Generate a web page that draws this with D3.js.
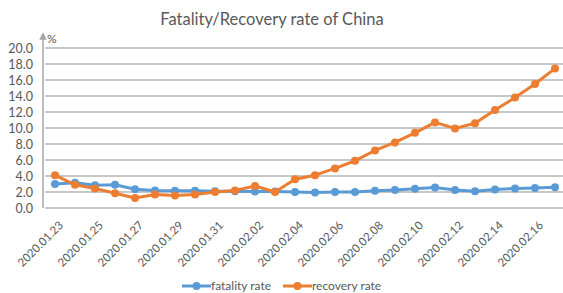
<!DOCTYPE html>
<html>
<head>
<meta charset="utf-8">
<script src="https://cdn.jsdelivr.net/npm/d3@7"></script>
<style>
  body { margin: 0; background: #fff; }
  text { font-family: Lato, "Open Sans", sans-serif; fill: #595959; }
</style>
</head>
<body>
<div class="chart"></div>
<script>
var dates = ["2020.01.23", "2020.01.24", "2020.01.25", "2020.01.26", "2020.01.27", "2020.01.28",
  "2020.01.29", "2020.01.30", "2020.01.31", "2020.02.01", "2020.02.02", "2020.02.03",
  "2020.02.04", "2020.02.05", "2020.02.06", "2020.02.07", "2020.02.08", "2020.02.09",
  "2020.02.10", "2020.02.11", "2020.02.12", "2020.02.13", "2020.02.14", "2020.02.15",
  "2020.02.16", "2020.02.17"];

var fatality = [3.0, 3.15, 2.85, 2.9, 2.35, 2.2, 2.15, 2.15, 2.1, 2.1, 2.05, 2.05,
  2.0, 1.95, 2.0, 2.0, 2.15, 2.25, 2.4, 2.55, 2.25, 2.1, 2.3, 2.45, 2.5, 2.6];

var recovery = [4.1, 2.9, 2.45, 1.85, 1.25, 1.7, 1.55, 1.7, 2.0, 2.2, 2.75, 2.0,
  3.6, 4.1, 4.95, 5.9, 7.2, 8.2, 9.4, 10.7, 9.95, 10.6, 12.25, 13.8, 15.5, 17.45];

var yTicks = [0, 2, 4, 6, 8, 10, 12, 14, 16, 18, 20];

var seriesNames = ["fatality rate", "recovery rate"];
var colors = ["#5B9BD5", "#ED7D31"];

var W = 563, H = 293;
var margin = { top: 48, right: -2, bottom: 85, left: 45 },
    width = W - margin.left - margin.right,
    height = H - margin.top - margin.bottom;

var svg = d3.select(".chart").append("svg")
    .attr("width", W)
    .attr("height", H);

svg.append("text")
    .attr("x", 272)
    .attr("y", 25)
    .attr("text-anchor", "middle")
    .style("font-size", "16.5px")
    .text("Fatality/Recovery rate of China");

var g = svg.append("g")
    .attr("transform", "translate(" + margin.left + "," + margin.top + ")");

var x = d3.scaleBand().domain(dates).range([0, 520]);
var y = d3.scaleLinear().domain([0, 20]).range([height, 0]);

// gridlines
g.append("g")
  .selectAll("line")
  .data(yTicks)
  .enter().append("line")
    .attr("x1", 0)
    .attr("x2", width)
    .attr("y1", function(d) { return y(d); })
    .attr("y2", function(d) { return y(d); })
    .attr("stroke", "#b4b4b4")
    .attr("stroke-width", 1.5);

// y axis labels
var yAxis = d3.axisLeft(y).tickValues(yTicks).tickFormat(d3.format(".1f")).tickSize(0).tickPadding(12);
var ya = g.append("g").call(yAxis);
ya.select(".domain").remove();
ya.selectAll("text").style("font-size", "12.5px").attr("fill", "#595959");

// y axis line with arrow
svg.append("defs").append("marker")
    .attr("id", "arrow")
    .attr("viewBox", "0 0 10 10")
    .attr("refX", 5).attr("refY", 5)
    .attr("markerWidth", 5).attr("markerHeight", 6)
    .attr("orient", "auto")
  .append("path")
    .attr("d", "M0,0L10,5L0,10z")
    .attr("fill", "#a6a6a6");

g.append("line")
    .attr("x1", -2).attr("x2", -2)
    .attr("y1", height).attr("y2", -12)
    .attr("stroke", "#a6a6a6")
    .attr("stroke-width", 1.5)
    .attr("marker-end", "url(#arrow)");

g.append("text")
    .attr("x", 2)
    .attr("y", -5)
    .style("font-size", "12px")
    .text("%");

// x axis labels, every other date
var xAxis = d3.axisBottom(x)
    .tickValues(dates.filter(function(d, i) { return i % 2 === 0; }))
    .tickSize(0).tickPadding(0);
var xa = g.append("g")
    .attr("transform", "translate(0," + height + ")")
    .call(xAxis);
xa.select(".domain").remove();
xa.selectAll("text")
    .style("font-size", "11.5px")
    .attr("fill", "#595959")
    .attr("text-anchor", "end")
    .attr("dy", "0")
    .attr("transform", "translate(9,18) rotate(-45)");

var cx = function(d, i) { return x(dates[i]) + x.bandwidth() / 2; };

[fatality, recovery].forEach(function(series, s) {
  var line = d3.line()
      .x(function(d, i) { return cx(d, i); })
      .y(function(d) { return y(d); });

  g.append("path")
      .datum(series)
      .attr("fill", "none")
      .attr("stroke", colors[s])
      .attr("stroke-width", 3)
      .attr("stroke-linejoin", "round")
      .attr("d", line);

  g.append("g")
    .selectAll("circle")
    .data(series)
    .enter().append("circle")
      .attr("cx", function(d, i) { return cx(d, i); })
      .attr("cy", function(d) { return y(d); })
      .attr("r", 4)
      .attr("fill", colors[s]);
});

// legend
var legendX = [182, 283];
seriesNames.forEach(function(name, s) {
  var lg = svg.append("g").attr("transform", "translate(" + legendX[s] + ",286)");
  lg.append("line")
      .attr("x1", 0).attr("x2", 29)
      .attr("stroke", colors[s])
      .attr("stroke-width", 3);
  lg.append("circle")
      .attr("cx", 14.5).attr("r", 4)
      .attr("fill", colors[s]);
  lg.append("text")
      .attr("x", 29)
      .attr("y", 4)
      .style("font-size", "12px")
      .text(name);
});
</script>
</body>
</html>
